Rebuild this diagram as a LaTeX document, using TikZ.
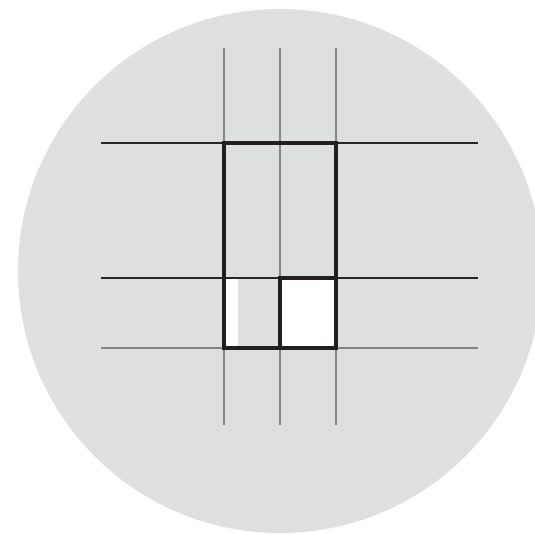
\documentclass[tikz,border=0pt]{standalone}
\begin{document}
\begin{tikzpicture}[x=0.75pt,y=-0.75pt,
  disc/.style={fill=discgray,draw=none},
  gridv/.style={draw=gridgray,line width=1pt},
  gridh/.style={draw=black!85,line width=0.8pt},
  gridhb/.style={draw=gridgray,line width=1.3pt},
  frame/.style={draw=framedark,line width=2.3pt},
]
\definecolor{discgray}{HTML}{DEDFDF}
\definecolor{gridgray}{HTML}{858585}
\definecolor{framedark}{HTML}{231F20}
\useasboundingbox (0,0) rectangle (535,533);
\begin{scope}
  \clip (0,0) rectangle (535,533);
  \fill[disc] (280,271) circle[radius=262];
\end{scope}
% white cells
\fill[white] (280,278) rectangle (336,348);
\fill[white] (224,278) rectangle (238,348);
% grid lines
\foreach \x in {224,280,336} \draw[gridv] (\x,48) -- (\x,425);
\draw[gridh] (101,143) -- (478,143);
\draw[gridh] (101,278) -- (478,278);
\draw[gridhb] (101,348) -- (478,348);
% thick frames
\draw[frame] (224,143) rectangle (336,348);
\draw[frame] (280,278) rectangle (336,348);
\end{tikzpicture}
\end{document}
